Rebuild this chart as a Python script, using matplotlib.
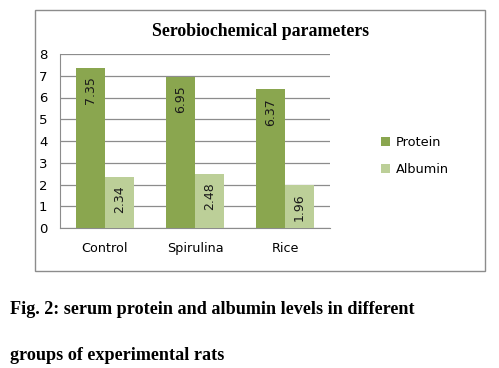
import matplotlib.pyplot as plt
from matplotlib.patches import Rectangle
import numpy as np

groups = ["Control", "Spirulina", "Rice"]
protein = [7.35, 6.95, 6.37]
albumin = [2.34, 2.48, 1.96]
yticks = [0, 1, 2, 3, 4, 5, 6, 7, 8]

c_prot = "#8aa64f"
c_alb = "#bccf98"

fig = plt.figure(figsize=(4.99, 3.68), dpi=100)
fig.patch.set_facecolor("white")

# outer chart frame
fig.patches.append(Rectangle((35 / 499, 1 - 271 / 368), 450 / 499, 261 / 368,
                             transform=fig.transFigure, fill=False,
                             edgecolor="#8c8c8c", linewidth=1.0))

ax = fig.add_axes([60 / 499, 1 - 228 / 368, 270 / 499, 174 / 368])

x = np.arange(len(groups))
w = 0.317
b1 = ax.bar(x - w / 2, protein, w, color=c_prot, label="Protein", zorder=3)
b2 = ax.bar(x + w / 2, albumin, w, color=c_alb, label="Albumin", zorder=3)

for bars, vals in [(b1, protein), (b2, albumin)]:
    for r, v in zip(bars, vals):
        ax.annotate(f"{v:.2f}", (r.get_x() + r.get_width() / 2, v),
                    xytext=(0, -16), textcoords="offset points",
                    rotation=90, ha="center", va="center",
                    fontsize=9, color="#1a1a1a", zorder=4)

ax.set_ylim(0, 8)
ax.set_xlim(-0.5, 2.5)
ax.set_yticks(yticks)
ax.set_xticks(x)
ax.set_xticklabels(groups)
ax.yaxis.grid(True, color="#8c8c8c", linewidth=0.9, zorder=0)
ax.set_axisbelow(True)
for s in ["top", "right"]:
    ax.spines[s].set_visible(False)
for s in ["left", "bottom"]:
    ax.spines[s].set_color("#8c8c8c")
ax.tick_params(axis="y", length=0, pad=9, labelsize=9.5)
ax.tick_params(axis="x", length=0, pad=10, labelsize=9.2)

fig.text(260 / 499, 1 - 32 / 368, "Serobiochemical parameters",
         ha="center", va="center", fontsize=12.8, fontweight="bold",
         family="Liberation Serif")

fig.legend(handles=[b1, b2], loc="center left",
           bbox_to_anchor=(369 / 499, 1 - 156 / 368), frameon=False,
           fontsize=9.3, handlelength=0.7, handleheight=0.7,
           handletextpad=0.5, labelspacing=1.1)

fig.text(10 / 499, 1 - 309 / 368,
         "Fig. 2: serum protein and albumin levels in different",
         ha="left", va="center", fontsize=13.1, fontweight="bold",
         family="Liberation Serif")
fig.text(10 / 499, 1 - 356 / 368, "groups of experimental rats",
         ha="left", va="center", fontsize=13.1, fontweight="bold",
         family="Liberation Serif")

fig.savefig("out.png", dpi=100)
